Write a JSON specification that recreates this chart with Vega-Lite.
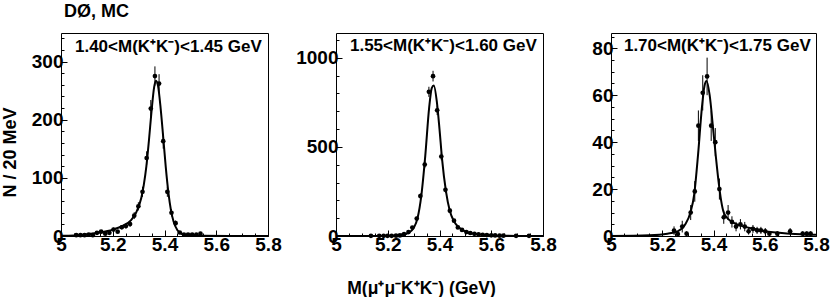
{
  "$schema": "https://vega.github.io/schema/vega-lite/v6.json",
  "background": "white",
  "padding": {"left": 0, "top": 2, "right": 0, "bottom": 0},
  "bounds": "flush",
  "spacing": 68,
  "config": {
    "view": {"stroke": "black", "strokeWidth": 1},
    "font": "Liberation Sans",
    "axis": {
      "labelFont": "Liberation Sans", "labelFontSize": 19, "labelFontWeight": "bold", "labelColor": "black",
      "titleFont": "Liberation Sans", "titleFontSize": 18, "titleFontWeight": "bold", "titleColor": "black",
      "domain": false, "grid": false, "tickColor": "black", "tickSize": -6, "tickWidth": 1,
      "labelPadding": 4, "labelFlush": false, "labelOverlap": false
    },
    "axisX": {"labelPadding": 5},
    "axisY": {"labelPadding": 4}
  },
  "datasets": {
    "p1": [
      {"m": 5.059, "n": 1.5, "lo": 0.3, "hi": 2.7}, {"m": 5.075, "n": 1.5, "lo": 0.3, "hi": 2.7},
      {"m": 5.091, "n": 1.5, "lo": 0.3, "hi": 2.7}, {"m": 5.107, "n": 2.5, "lo": 0.9, "hi": 4.1},
      {"m": 5.123, "n": 1.5, "lo": 0.3, "hi": 2.7}, {"m": 5.139, "n": 5.5, "lo": 3.2, "hi": 7.8},
      {"m": 5.155, "n": 7.5, "lo": 4.8, "hi": 10.2}, {"m": 5.171, "n": 4, "lo": 2, "hi": 6},
      {"m": 5.187, "n": 5.5, "lo": 3.2, "hi": 7.8}, {"m": 5.203, "n": 11, "lo": 7.7, "hi": 14.3},
      {"m": 5.219, "n": 7.5, "lo": 4.8, "hi": 10.2}, {"m": 5.235, "n": 15, "lo": 11.1, "hi": 18.9},
      {"m": 5.251, "n": 17, "lo": 12.9, "hi": 21.1}, {"m": 5.267, "n": 20.5, "lo": 16, "hi": 25},
      {"m": 5.283, "n": 35, "lo": 29.1, "hi": 40.9}, {"m": 5.299, "n": 51, "lo": 43.9, "hi": 58.1},
      {"m": 5.315, "n": 76, "lo": 67.3, "hi": 84.7}, {"m": 5.331, "n": 134, "lo": 122.4, "hi": 145.6},
      {"m": 5.347, "n": 219, "lo": 204.2, "hi": 233.8}, {"m": 5.363, "n": 275, "lo": 258.4, "hi": 291.6},
      {"m": 5.379, "n": 262, "lo": 245.8, "hi": 278.2}, {"m": 5.395, "n": 163, "lo": 150.2, "hi": 175.8},
      {"m": 5.411, "n": 76, "lo": 67.3, "hi": 84.7}, {"m": 5.427, "n": 40, "lo": 33.7, "hi": 46.3},
      {"m": 5.443, "n": 22, "lo": 17.3, "hi": 26.7}, {"m": 5.459, "n": 6, "lo": 3.6, "hi": 8.4},
      {"m": 5.475, "n": 2.5, "lo": 0.9, "hi": 4.1}, {"m": 5.491, "n": 2.5, "lo": 0.9, "hi": 4.1},
      {"m": 5.507, "n": 2.5, "lo": 0.9, "hi": 4.1}, {"m": 5.523, "n": 2.5, "lo": 0.9, "hi": 4.1},
      {"m": 5.539, "n": 4, "lo": 2, "hi": 6}
    ],
    "f1": [
      {"m": 5.0, "y": 0.5}, {"m": 5.05, "y": 1}, {"m": 5.1, "y": 3}, {"m": 5.15, "y": 6},
      {"m": 5.2, "y": 11}, {"m": 5.24, "y": 18}, {"m": 5.27, "y": 27}, {"m": 5.29, "y": 40},
      {"m": 5.31, "y": 65}, {"m": 5.32, "y": 88}, {"m": 5.33, "y": 120}, {"m": 5.34, "y": 165},
      {"m": 5.35, "y": 215}, {"m": 5.36, "y": 256}, {"m": 5.367, "y": 267}, {"m": 5.375, "y": 258},
      {"m": 5.385, "y": 220}, {"m": 5.395, "y": 170}, {"m": 5.405, "y": 118}, {"m": 5.415, "y": 75},
      {"m": 5.425, "y": 44}, {"m": 5.435, "y": 25}, {"m": 5.45, "y": 10}, {"m": 5.47, "y": 3},
      {"m": 5.5, "y": 1}, {"m": 5.55, "y": 0.3}, {"m": 5.65, "y": 0.1}, {"m": 5.8, "y": 0}
    ],
    "p2": [
      {"m": 5.135, "n": 1, "lo": 0, "hi": 2}, {"m": 5.167, "n": 1, "lo": 0, "hi": 2},
      {"m": 5.184, "n": 1, "lo": 0, "hi": 2}, {"m": 5.199, "n": 1, "lo": 0, "hi": 2},
      {"m": 5.215, "n": 1, "lo": 0, "hi": 2}, {"m": 5.232, "n": 2, "lo": 0.6, "hi": 3.4},
      {"m": 5.247, "n": 3, "lo": 1.3, "hi": 4.7}, {"m": 5.263, "n": 10, "lo": 6.8, "hi": 13.2},
      {"m": 5.28, "n": 22, "lo": 17.3, "hi": 26.7}, {"m": 5.295, "n": 47, "lo": 40.1, "hi": 53.9},
      {"m": 5.312, "n": 98, "lo": 88.1, "hi": 107.9}, {"m": 5.326, "n": 224, "lo": 209, "hi": 239},
      {"m": 5.343, "n": 401, "lo": 381, "hi": 421}, {"m": 5.359, "n": 809, "lo": 780.6, "hi": 837.4},
      {"m": 5.375, "n": 897, "lo": 867, "hi": 927}, {"m": 5.391, "n": 705, "lo": 678.4, "hi": 731.6},
      {"m": 5.407, "n": 446, "lo": 424.9, "hi": 467.1}, {"m": 5.423, "n": 259, "lo": 242.9, "hi": 275.1},
      {"m": 5.44, "n": 142, "lo": 130.1, "hi": 153.9}, {"m": 5.456, "n": 86, "lo": 76.7, "hi": 95.3},
      {"m": 5.471, "n": 48, "lo": 41.1, "hi": 54.9}, {"m": 5.487, "n": 34, "lo": 28.2, "hi": 39.8},
      {"m": 5.504, "n": 22, "lo": 17.3, "hi": 26.7}, {"m": 5.519, "n": 17, "lo": 12.9, "hi": 21.1},
      {"m": 5.535, "n": 12, "lo": 8.5, "hi": 15.5}, {"m": 5.551, "n": 9, "lo": 6, "hi": 12},
      {"m": 5.567, "n": 7, "lo": 4.4, "hi": 9.6}, {"m": 5.583, "n": 5, "lo": 2.8, "hi": 7.2},
      {"m": 5.6, "n": 4, "lo": 2, "hi": 6}, {"m": 5.615, "n": 3, "lo": 1.3, "hi": 4.7},
      {"m": 5.632, "n": 2, "lo": 0.6, "hi": 3.4}, {"m": 5.647, "n": 2, "lo": 0.6, "hi": 3.4},
      {"m": 5.696, "n": 1, "lo": 0, "hi": 2}, {"m": 5.746, "n": 1, "lo": 0, "hi": 2}
    ],
    "f2": [
      {"m": 5.0, "y": 0}, {"m": 5.1, "y": 0.5}, {"m": 5.2, "y": 2}, {"m": 5.25, "y": 6},
      {"m": 5.28, "y": 18}, {"m": 5.3, "y": 45}, {"m": 5.315, "y": 100}, {"m": 5.33, "y": 230},
      {"m": 5.345, "y": 450}, {"m": 5.36, "y": 720}, {"m": 5.37, "y": 830}, {"m": 5.378, "y": 845},
      {"m": 5.39, "y": 750}, {"m": 5.4, "y": 600}, {"m": 5.41, "y": 430}, {"m": 5.425, "y": 250},
      {"m": 5.44, "y": 140}, {"m": 5.455, "y": 85}, {"m": 5.47, "y": 55}, {"m": 5.49, "y": 33},
      {"m": 5.51, "y": 20}, {"m": 5.54, "y": 11}, {"m": 5.58, "y": 5}, {"m": 5.62, "y": 2},
      {"m": 5.7, "y": 0.5}, {"m": 5.8, "y": 0}
    ],
    "p3": [
      {"m": 5.246, "n": 2.3, "lo": 0.5, "hi": 4.1}, {"m": 5.261, "n": 0.8, "lo": 0, "hi": 1.8},
      {"m": 5.278, "n": 4, "lo": 1.5, "hi": 6.5}, {"m": 5.295, "n": 1, "lo": 0, "hi": 2},
      {"m": 5.311, "n": 10, "lo": 6.8, "hi": 13.2}, {"m": 5.327, "n": 19, "lo": 14.6, "hi": 23.4},
      {"m": 5.341, "n": 47, "lo": 40.5, "hi": 53.5}, {"m": 5.358, "n": 61, "lo": 53.5, "hi": 68.5},
      {"m": 5.375, "n": 68, "lo": 60, "hi": 76}, {"m": 5.391, "n": 47, "lo": 40.5, "hi": 53.5},
      {"m": 5.407, "n": 40, "lo": 34, "hi": 46}, {"m": 5.423, "n": 20, "lo": 15.5, "hi": 24.5},
      {"m": 5.44, "n": 8, "lo": 5.2, "hi": 10.8}, {"m": 5.457, "n": 10, "lo": 6.8, "hi": 13.2},
      {"m": 5.472, "n": 6, "lo": 3.6, "hi": 8.4}, {"m": 5.488, "n": 4, "lo": 2, "hi": 6},
      {"m": 5.505, "n": 5, "lo": 2.8, "hi": 7.2}, {"m": 5.522, "n": 4, "lo": 2, "hi": 6},
      {"m": 5.537, "n": 2, "lo": 0.6, "hi": 3.4}, {"m": 5.554, "n": 3, "lo": 1.3, "hi": 4.7},
      {"m": 5.57, "n": 2.4, "lo": 0.9, "hi": 3.9}, {"m": 5.585, "n": 2.4, "lo": 0.9, "hi": 3.9},
      {"m": 5.602, "n": 2, "lo": 0.6, "hi": 3.4}, {"m": 5.618, "n": 1, "lo": 0, "hi": 2},
      {"m": 5.649, "n": 1, "lo": 0, "hi": 2}, {"m": 5.699, "n": 2, "lo": 0.6, "hi": 3.4},
      {"m": 5.748, "n": 1, "lo": 0, "hi": 2}, {"m": 5.764, "n": 1, "lo": 0, "hi": 2},
      {"m": 5.779, "n": 1, "lo": 0, "hi": 2}
    ],
    "f3": [
      {"m": 5.0, "y": 0}, {"m": 5.15, "y": 0.3}, {"m": 5.22, "y": 1}, {"m": 5.26, "y": 2},
      {"m": 5.29, "y": 5}, {"m": 5.31, "y": 10}, {"m": 5.325, "y": 18}, {"m": 5.34, "y": 35},
      {"m": 5.355, "y": 55}, {"m": 5.365, "y": 64}, {"m": 5.373, "y": 66}, {"m": 5.385, "y": 60},
      {"m": 5.4, "y": 44}, {"m": 5.41, "y": 33}, {"m": 5.42, "y": 23}, {"m": 5.43, "y": 15},
      {"m": 5.44, "y": 10}, {"m": 5.46, "y": 7}, {"m": 5.49, "y": 5}, {"m": 5.52, "y": 4},
      {"m": 5.56, "y": 3}, {"m": 5.6, "y": 2}, {"m": 5.65, "y": 1.5}, {"m": 5.7, "y": 1},
      {"m": 5.8, "y": 0.5}
    ]
  },
  "hconcat": [
    {
      "width": 207, "height": 203,
      "title": {"text": "DØ, MC", "anchor": "start", "frame": "group", "dx": 3, "offset": -2, "baseline": "alphabetic", "font": "Liberation Sans", "fontSize": 18, "fontWeight": "bold", "color": "black"},
      "resolve": {"axis": {"x": "independent", "y": "independent"}},
      "layer": [
        {
          "data": {"name": "p1"},
          "mark": {"type": "rule", "color": "black", "strokeWidth": 1},
          "encoding": {
            "x": {"field": "m", "type": "quantitative", "scale": {"domain": [5, 5.8], "nice": false, "zero": false},
                  "axis": {"orient": "bottom", "values": [5, 5.2, 5.4, 5.6, 5.8], "format": "~g", "title": null}},
            "y": {"field": "lo", "type": "quantitative", "scale": {"domain": [0, 349], "nice": false},
                  "axis": {"orient": "left", "values": [0, 100, 200, 300], "format": "d", "title": "N / 20 MeV",
                           "titleX": -46, "titleY": 119, "titleAlign": "center", "titleBaseline": "alphabetic", "titleAngle": 270}},
            "y2": {"field": "hi"}
          }
        },
        {
          "data": {"name": "f1"},
          "mark": {"type": "line", "color": "black", "strokeWidth": 2, "interpolate": "monotone"},
          "encoding": {
            "x": {"field": "m", "type": "quantitative", "scale": {"domain": [5, 5.8], "nice": false, "zero": false},
                  "axis": {"orient": "bottom", "values": [5, 5.05, 5.1, 5.15, 5.2, 5.25, 5.3, 5.35, 5.4, 5.45, 5.5, 5.55, 5.6, 5.65, 5.7, 5.75, 5.8], "labels": false, "tickSize": -3, "title": null}},
            "y": {"field": "y", "type": "quantitative", "scale": {"domain": [0, 349], "nice": false},
                  "axis": {"orient": "left", "values": [0, 20, 40, 60, 80, 100, 120, 140, 160, 180, 200, 220, 240, 260, 280, 300, 320, 340], "labels": false, "tickSize": -3, "title": null}}
          }
        },
        {
          "data": {"name": "p1"},
          "mark": {"type": "circle", "color": "black", "size": 22, "opacity": 1},
          "encoding": {
            "x": {"field": "m", "type": "quantitative", "scale": {"domain": [5, 5.8], "nice": false, "zero": false}, "axis": null},
            "y": {"field": "n", "type": "quantitative", "scale": {"domain": [0, 349], "nice": false}, "axis": null}
          }
        },
        {
          "data": {"values": [{"label": "1.40<M(K⁺K⁻)<1.45 GeV"}]},
          "mark": {"type": "text", "font": "Liberation Sans", "fontSize": 17, "fontWeight": "bold", "color": "black", "align": "center", "baseline": "middle"},
          "encoding": {
            "x": {"datum": 5.415, "type": "quantitative", "scale": {"domain": [5, 5.8], "nice": false, "zero": false}, "axis": null},
            "y": {"datum": 325, "type": "quantitative", "scale": {"domain": [0, 349], "nice": false}, "axis": null},
            "text": {"field": "label"}
          }
        }
      ]
    },
    {
      "width": 207, "height": 203,
      "resolve": {"axis": {"x": "independent", "y": "independent"}},
      "layer": [
        {
          "data": {"name": "p2"},
          "mark": {"type": "rule", "color": "black", "strokeWidth": 1},
          "encoding": {
            "x": {"field": "m", "type": "quantitative", "scale": {"domain": [5, 5.8], "nice": false, "zero": false},
                  "axis": {"orient": "bottom", "values": [5, 5.2, 5.4, 5.6, 5.8], "format": "~g", "title": "M(μ⁺μ⁻K⁺K⁻) (GeV)",
                           "titleX": 85, "titleY": 57, "titleAlign": "center", "titleBaseline": "alphabetic", "titleFontSize": 17.5}},
            "y": {"field": "lo", "type": "quantitative", "scale": {"domain": [0, 1139], "nice": false},
                  "axis": {"orient": "left", "values": [0, 500, 1000], "format": "d", "title": null}},
            "y2": {"field": "hi"}
          }
        },
        {
          "data": {"name": "f2"},
          "mark": {"type": "line", "color": "black", "strokeWidth": 2, "interpolate": "monotone"},
          "encoding": {
            "x": {"field": "m", "type": "quantitative", "scale": {"domain": [5, 5.8], "nice": false, "zero": false},
                  "axis": {"orient": "bottom", "values": [5, 5.05, 5.1, 5.15, 5.2, 5.25, 5.3, 5.35, 5.4, 5.45, 5.5, 5.55, 5.6, 5.65, 5.7, 5.75, 5.8], "labels": false, "tickSize": -3, "title": null}},
            "y": {"field": "y", "type": "quantitative", "scale": {"domain": [0, 1139], "nice": false},
                  "axis": {"orient": "left", "values": [0, 100, 200, 300, 400, 500, 600, 700, 800, 900, 1000, 1100], "labels": false, "tickSize": -3, "title": null}}
          }
        },
        {
          "data": {"name": "p2"},
          "mark": {"type": "circle", "color": "black", "size": 22, "opacity": 1},
          "encoding": {
            "x": {"field": "m", "type": "quantitative", "scale": {"domain": [5, 5.8], "nice": false, "zero": false}, "axis": null},
            "y": {"field": "n", "type": "quantitative", "scale": {"domain": [0, 1139], "nice": false}, "axis": null}
          }
        },
        {
          "data": {"values": [{"label": "1.55<M(K⁺K⁻)<1.60 GeV"}]},
          "mark": {"type": "text", "font": "Liberation Sans", "fontSize": 17, "fontWeight": "bold", "color": "black", "align": "center", "baseline": "middle"},
          "encoding": {
            "x": {"datum": 5.415, "type": "quantitative", "scale": {"domain": [5, 5.8], "nice": false, "zero": false}, "axis": null},
            "y": {"datum": 1066, "type": "quantitative", "scale": {"domain": [0, 1139], "nice": false}, "axis": null},
            "text": {"field": "label"}
          }
        }
      ]
    },
    {
      "width": 205, "height": 203,
      "resolve": {"axis": {"x": "independent", "y": "independent"}},
      "layer": [
        {
          "data": {"name": "p3"},
          "mark": {"type": "rule", "color": "black", "strokeWidth": 1},
          "encoding": {
            "x": {"field": "m", "type": "quantitative", "scale": {"domain": [5, 5.8], "nice": false, "zero": false},
                  "axis": {"orient": "bottom", "values": [5, 5.2, 5.4, 5.6, 5.8], "format": "~g", "title": null}},
            "y": {"field": "lo", "type": "quantitative", "scale": {"domain": [0, 86.5], "nice": false},
                  "axis": {"orient": "left", "values": [0, 20, 40, 60, 80], "format": "d", "title": null}},
            "y2": {"field": "hi"}
          }
        },
        {
          "data": {"name": "f3"},
          "mark": {"type": "line", "color": "black", "strokeWidth": 2, "interpolate": "monotone"},
          "encoding": {
            "x": {"field": "m", "type": "quantitative", "scale": {"domain": [5, 5.8], "nice": false, "zero": false},
                  "axis": {"orient": "bottom", "values": [5, 5.05, 5.1, 5.15, 5.2, 5.25, 5.3, 5.35, 5.4, 5.45, 5.5, 5.55, 5.6, 5.65, 5.7, 5.75, 5.8], "labels": false, "tickSize": -3, "title": null}},
            "y": {"field": "y", "type": "quantitative", "scale": {"domain": [0, 86.5], "nice": false},
                  "axis": {"orient": "left", "values": [0, 5, 10, 15, 20, 25, 30, 35, 40, 45, 50, 55, 60, 65, 70, 75, 80, 85], "labels": false, "tickSize": -3, "title": null}}
          }
        },
        {
          "data": {"name": "p3"},
          "mark": {"type": "circle", "color": "black", "size": 22, "opacity": 1},
          "encoding": {
            "x": {"field": "m", "type": "quantitative", "scale": {"domain": [5, 5.8], "nice": false, "zero": false}, "axis": null},
            "y": {"field": "n", "type": "quantitative", "scale": {"domain": [0, 86.5], "nice": false}, "axis": null}
          }
        },
        {
          "data": {"values": [{"label": "1.70<M(K⁺K⁻)<1.75 GeV"}]},
          "mark": {"type": "text", "font": "Liberation Sans", "fontSize": 17, "fontWeight": "bold", "color": "black", "align": "center", "baseline": "middle"},
          "encoding": {
            "x": {"datum": 5.415, "type": "quantitative", "scale": {"domain": [5, 5.8], "nice": false, "zero": false}, "axis": null},
            "y": {"datum": 81, "type": "quantitative", "scale": {"domain": [0, 86.5], "nice": false}, "axis": null},
            "text": {"field": "label"}
          }
        }
      ]
    }
  ]
}
